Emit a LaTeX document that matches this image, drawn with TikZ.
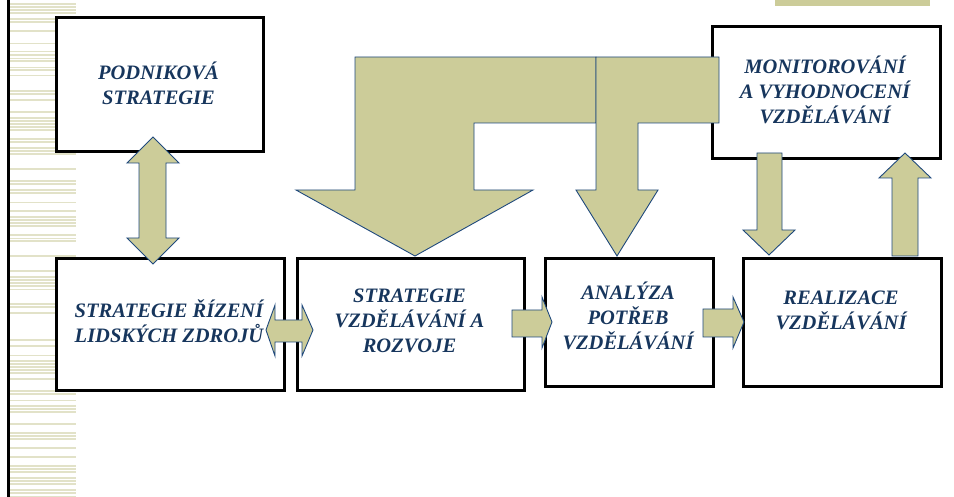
\documentclass[tikz,border=0pt]{standalone}
\usepackage{fontspec}
\setmainfont{Liberation Serif}
\definecolor{arrowfill}{RGB}{204,204,153}
\definecolor{arrowline}{RGB}{31,73,125}
\definecolor{txtblue}{RGB}{23,54,93}
\definecolor{stripe}{RGB}{226,226,200}
\begin{document}
\begin{tikzpicture}[x=1pt,y=-1pt,
  box/.style={draw=black, line width=3pt, fill=white, inner sep=0pt, anchor=north west},
  lbl/.style={text=txtblue, font=\bfseries\itshape\fontsize{20.5}{25}\selectfont, align=center, inner sep=0pt},
  blk/.style={fill=arrowfill, draw=arrowline, line width=0.9pt, line join=miter}]
\useasboundingbox (0,0) rectangle (954,497);
% left decoration
\pgfmathsetseed{11}
\foreach \i in {0,...,165}{
  \pgfmathsetmacro\r{rnd}
  \pgfmathsetmacro\w{0.7+2.2*rnd}
  \ifdim\r pt<0.5pt
    \draw[stripe, line width=\w pt] (10,\i*3+1) -- (76,\i*3+1);
  \fi
}
\draw[black, line width=2.5pt] (8.5,0) -- (8.5,497);
% top bar
\fill[arrowfill] (775,0) rectangle (930,6);
% boxes
\node[box, minimum width=207pt, minimum height=134pt] (pod) at (55,16) {};
\node[box, minimum width=228pt, minimum height=132pt] (mon) at (711,25) {};
\node[box, minimum width=228pt, minimum height=132pt] (rz) at (55,257) {};
\node[box, minimum width=227pt, minimum height=132pt] (vz) at (296,257) {};
\node[box, minimum width=168pt, minimum height=128pt] (an) at (544,257) {};
\node[box, minimum width=198pt, minimum height=128pt] (re) at (742,257) {};
% block arrows
\draw[blk] (355,57) -- (596,57) -- (596,123) -- (474,123) -- (474,190) -- (533,190) -- (415,256) -- (296,190) -- (355,190) -- cycle;
\draw[blk] (596,57) -- (719,57) -- (719,123) -- (638,123) -- (638,190) -- (658,190) -- (617,256) -- (576,190) -- (596,190) -- cycle;
\draw[blk] (153,137) -- (179,163) -- (166,163) -- (166,238) -- (179,238) -- (153,264) -- (127,238) -- (139,238) -- (139,163) -- (127,163) -- cycle;
\draw[blk] (266,330) -- (275,305) -- (275,320) -- (302,320) -- (302,305) -- (313,330) -- (302,356) -- (302,342) -- (275,342) -- (275,356) -- cycle;
\draw[blk] (512,310) -- (542,310) -- (542,297) -- (552,322) -- (542,348) -- (542,337) -- (512,337) -- cycle;
\draw[blk] (703,309) -- (733,309) -- (733,297) -- (744,322) -- (733,348) -- (733,337) -- (703,337) -- cycle;
\draw[blk] (757,153) -- (782,153) -- (782,230) -- (795,230) -- (769,255) -- (743,230) -- (757,230) -- cycle;
\draw[blk] (892,256) -- (918,256) -- (918,178) -- (931,178) -- (905,153) -- (879,178) -- (892,178) -- cycle;
% labels
\node[lbl] (tpod) at (158.5,83) {PODNIKOVÁ\\STRATEGIE};
\node[lbl] (tmon) at (825,89.5) {MONITOROVÁNÍ\\A VYHODNOCENÍ\\VZDĚLÁVÁNÍ};
\node[lbl] (trz) at (169,321) {STRATEGIE ŘÍZENÍ\\LIDSKÝCH ZDROJŮ};
\node[lbl] (tvz) at (409.5,321) {STRATEGIE\\VZDĚLÁVÁNÍ A\\ROZVOJE};
\node[lbl] (tan) at (628,315.5) {ANALÝZA\\POTŘEB\\VZDĚLÁVÁNÍ};
\node[lbl] (tre) at (841,310) {REALIZACE\\VZDĚLÁVÁNÍ};
\end{tikzpicture}
\end{document}
